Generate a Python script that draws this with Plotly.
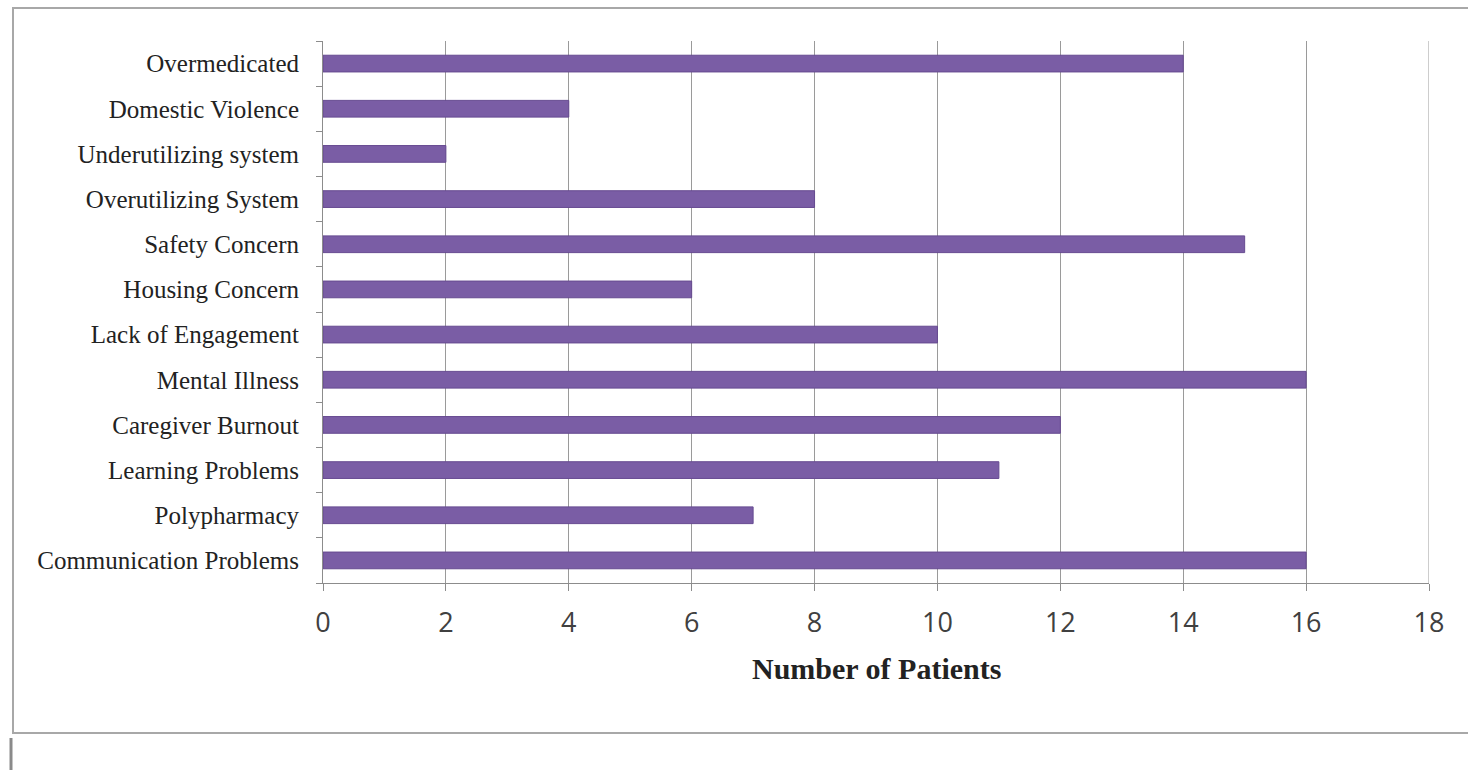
import plotly.graph_objects as go

# Categories listed bottom-to-top, as plotted on the category axis
categories = [
    "Communication Problems",
    "Polypharmacy",
    "Learning Problems",
    "Caregiver Burnout",
    "Mental Illness",
    "Lack of Engagement",
    "Housing Concern",
    "Safety Concern",
    "Overutilizing System",
    "Underutilizing system",
    "Domestic Violence",
    "Overmedicated",
]
patients = [16, 7, 11, 12, 16, 10, 6, 15, 8, 2, 4, 14]
x_ticks = [0, 2, 4, 6, 8, 10, 12, 14, 16, 18]

W, H = 1468, 770
L, R, T, B = 323, 1429, 41, 583  # plot area in pixels


def px_x(p):
    return (p - L) / (R - L)


def px_y(p):
    return (B - p) / (B - T)


fig = go.Figure(
    go.Bar(
        x=patients,
        y=categories,
        orientation="h",
        width=0.37,
        marker=dict(color="#7A5DA5", line=dict(color="#664A90", width=1)),
        hoverinfo="x+y",
    )
)

fig.update_layout(
    width=W,
    height=H,
    margin=dict(l=L, r=W - R, t=T, b=H - B, pad=0),
    paper_bgcolor="white",
    plot_bgcolor="white",
    showlegend=False,
    xaxis=dict(
        range=[0, 18],
        tickvals=x_ticks,
        ticktext=[str(v) for v in x_ticks],
        showgrid=True,
        gridcolor="#9a9a9a",
        gridwidth=1,
        zeroline=False,
        showline=True,
        linecolor="#8c8c8c",
        linewidth=1,
        ticks="outside",
        ticklen=7,
        tickcolor="#8c8c8c",
        tickfont=dict(family="Open Sans", size=27, color="#404040"),
        ticklabelstandoff=9,
    ),
    yaxis=dict(
        type="category",
        categoryorder="array",
        categoryarray=categories,
        showgrid=False,
        zeroline=False,
        showline=True,
        linecolor="#8c8c8c",
        linewidth=1,
        ticks="outside",
        tickson="boundaries",
        ticklen=6,
        tickcolor="#8c8c8c",
        tickfont=dict(family="Liberation Serif", size=25, color="#222222"),
        ticklabelstandoff=18,
    ),
    annotations=[
        dict(
            text="<b>Number of Patients</b>",
            xref="paper",
            yref="paper",
            x=px_x(876),
            y=px_y(668),
            xanchor="center",
            yanchor="middle",
            showarrow=False,
            font=dict(family="Liberation Serif", size=30, color="#222222"),
        )
    ],
    shapes=[
        # gridline at the right end of the value axis
        dict(
            type="line",
            xref="x",
            yref="paper",
            x0=18,
            x1=18,
            y0=0,
            y1=1,
            line=dict(color="#9a9a9a", width=1),
            layer="below",
        ),
        # frame around the chart
        dict(
            type="rect",
            xref="paper",
            yref="paper",
            x0=px_x(13),
            x1=px_x(1475),
            y0=px_y(733),
            y1=px_y(8),
            line=dict(color="#a8a8a8", width=2),
            fillcolor="rgba(0,0,0,0)",
            layer="below",
        ),
        # short rule below the frame
        dict(
            type="line",
            xref="paper",
            yref="paper",
            x0=px_x(11),
            x1=px_x(11),
            y0=px_y(738),
            y1=px_y(772),
            line=dict(color="#8a8a8a", width=3),
        ),
    ],
)

fig.write_html("out.html")
